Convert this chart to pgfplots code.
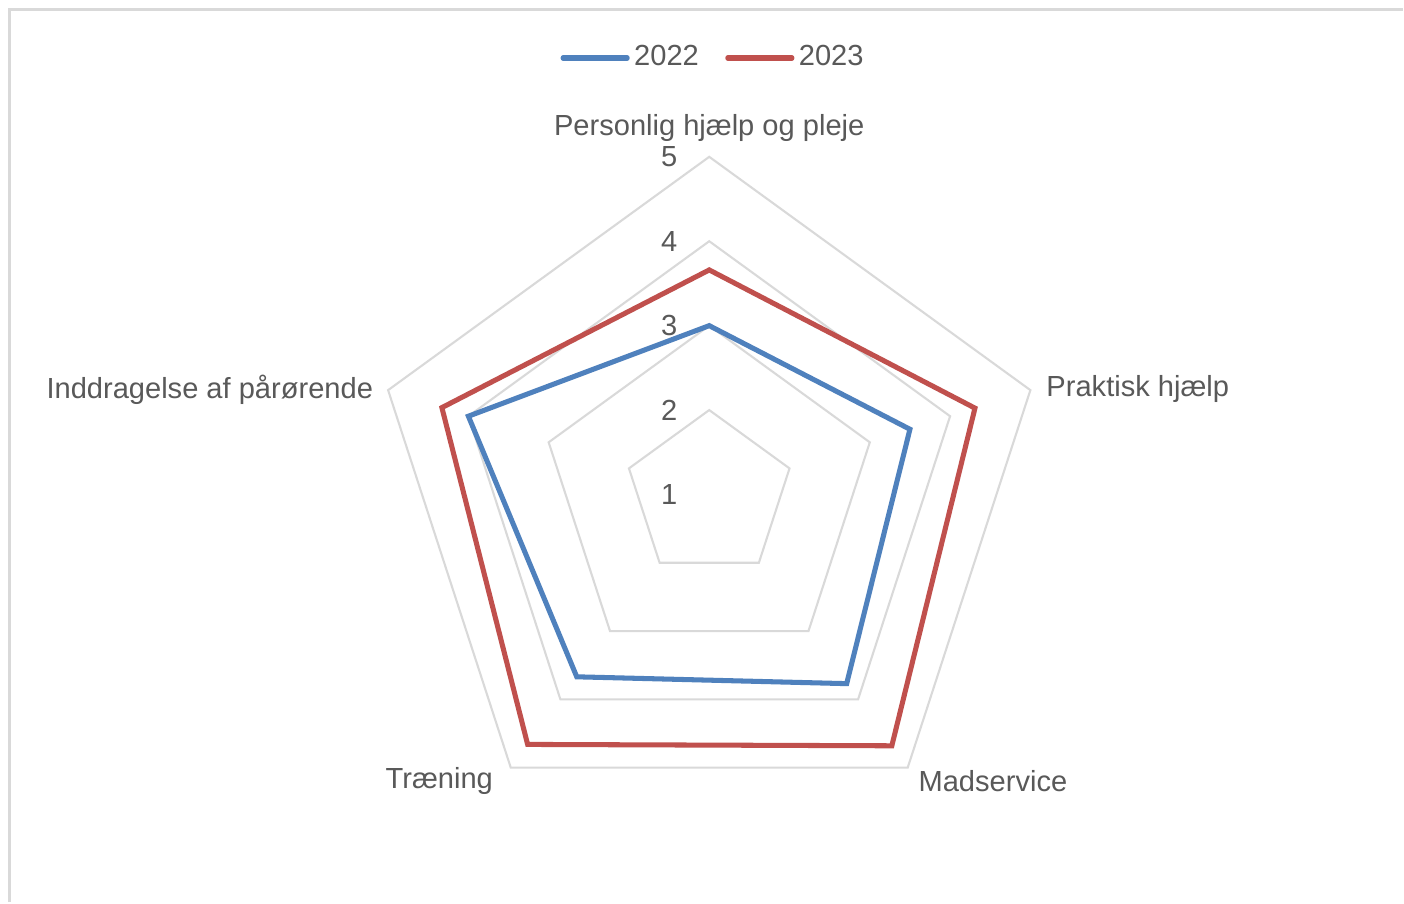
\documentclass[border=0pt]{standalone}
\usepackage{pgfplots}
\pgfplotsset{compat=1.18}
\usepackage{pgfplotstable}
\usepackage{fontspec}
\setmainfont{Liberation Sans}

\definecolor{c22}{HTML}{4F81BD}
\definecolor{c23}{HTML}{C0504D}
\definecolor{gridc}{HTML}{D9D9D9}
\definecolor{txt}{HTML}{595959}

% angle of each spoke, scores per year (scale 1-5, centre = 1)
% first two rows repeated at the end to close the outline
\pgfplotstableread{
a    v2022 v2023
90   3.00  3.66
18   3.50  4.31
-54  3.77  4.68
-126 3.67  4.66
162  4.00  4.33
90   3.00  3.66
18   3.50  4.31
}\radar

\begin{document}
\begin{tikzpicture}[font=\fontsize{9.8}{11.8}\selectfont]
\begin{axis}[
x=1cm, y=1cm,
xmin=-8.402, xmax=8.213,
ymin=-4.828, ymax=5.858,
hide axis,
clip=false,
legend columns=2,
legend style={at={(0.5093,0.9357)}, anchor=center, draw=none, fill=none,
  text=txt, inner sep=0pt, nodes={inner xsep=1.5pt},
  /tikz/every even column/.append style={column sep=0.26cm}},
legend image code/.code={\draw[#1, line width=1.7pt, line cap=round] (0cm,0cm) -- (0.76cm,0cm);},
]
\path[fill=white] (rel axis cs:0,0) rectangle (rel axis cs:1,1);
\draw[gridc, line width=1pt] (axis cs:-8.284,-4.828) -- (axis cs:-8.284,5.740) -- (axis cs:8.213,5.740);

\pgfplotsinvokeforeach{2,3,4,5}{
\addplot[gridc, line width=0.7pt, line join=miter, forget plot]
  table[x expr={(#1-1)*cos(\thisrow{a})}, y expr={(#1-1)*sin(\thisrow{a})}] {\radar};
}

\addplot[c22, line width=1.7pt, line join=miter]
  table[x expr={(\thisrow{v2022}-1)*cos(\thisrow{a})}, y expr={(\thisrow{v2022}-1)*sin(\thisrow{a})}] {\radar};
\addlegendentry{2022}
\addplot[c23, line width=1.7pt, line join=miter]
  table[x expr={(\thisrow{v2023}-1)*cos(\thisrow{a})}, y expr={(\thisrow{v2023}-1)*sin(\thisrow{a})}] {\radar};
\addlegendentry{2023}

\node[text=txt] at (axis cs:-0.473,4) {5};
\node[text=txt] at (axis cs:-0.473,3) {4};
\node[text=txt] at (axis cs:-0.473,2) {3};
\node[text=txt] at (axis cs:-0.473,1) {2};
\node[text=txt] at (axis cs:-0.473,0) {1};

\node[text=txt, inner sep=0pt] at (axis cs:0,4.345) {Personlig hjælp og pleje};
\node[text=txt, inner sep=0pt, anchor=west] at (axis cs:3.988,1.245) {Praktisk hjælp};
\node[text=txt, inner sep=0pt, anchor=west] at (axis cs:2.473,-3.395) {Madservice};
\node[text=txt, inner sep=0pt, anchor=east] at (axis cs:-2.556,-3.395) {Træning};
\node[text=txt, inner sep=0pt, anchor=east] at (axis cs:-3.976,1.245) {Inddragelse af pårørende};
\end{axis}
\end{tikzpicture}
\end{document}
